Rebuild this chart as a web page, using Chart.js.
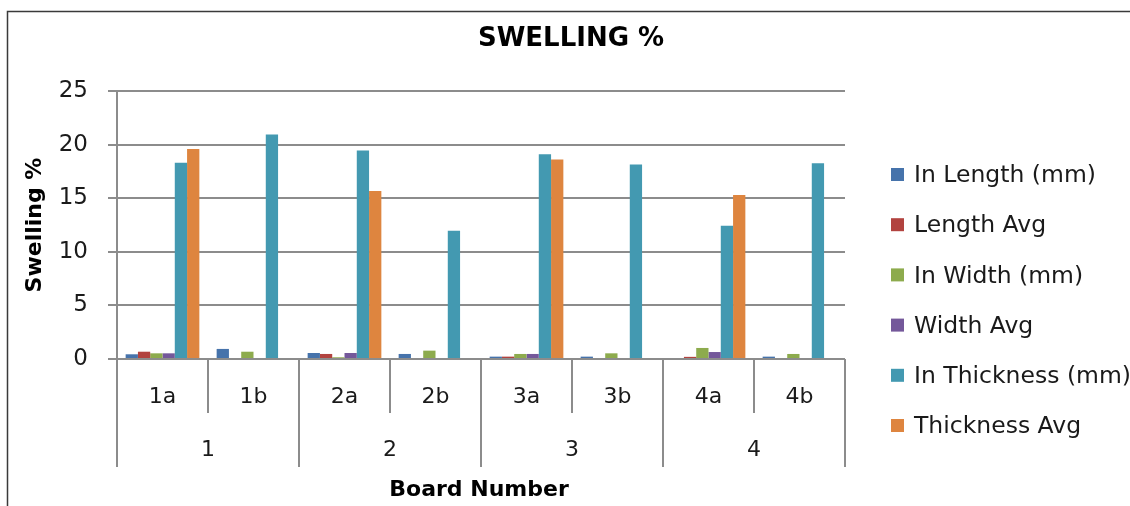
<!DOCTYPE html>
<html>
<head>
<meta charset="utf-8">
<title>Swelling %</title>
<script src="https://cdn.jsdelivr.net/npm/chart.js@4.4.1/dist/chart.umd.min.js"></script>
<style>
  html, body { margin: 0; padding: 0; background: #ffffff; }
  #wrap { width: 1130px; height: 506px; position: relative; }
</style>
</head>
<body>
<div id="wrap"><canvas id="chart" width="1130" height="506"></canvas></div>
<script>
// Board samples (inner axis level) and their board numbers (outer level)
const categories = ['1a', '1b', '2a', '2b', '3a', '3b', '4a', '4b'];
const boardGroups = ['1', '2', '3', '4'];

// Swelling % per sample
const inLength     = [0.44, 0.94, 0.56, 0.47, 0.22, 0.22, 0,    0.22];
const lengthAvg    = [0.68, null, 0.47, null, 0.22, null, 0.20, null];
const inWidth      = [0.53, 0.68, 0.16, 0.78, 0.47, 0.53, 1.03, 0.47];
const widthAvg     = [0.53, null, 0.56, null, 0.47, null, 0.65, null];
const inThickness  = [18.3, 20.95, 19.46, 11.97, 19.1, 18.15, 12.43, 18.27];
const thicknessAvg = [19.6, null, 15.67, null, 18.6, null, 15.3, null];

const seriesNames = ['In Length (mm)', 'Length Avg', 'In Width (mm)', 'Width Avg', 'In Thickness (mm)', 'Thickness Avg'];
const seriesColors = ['#4673ab', '#b2433f', '#8dab4d', '#74589a', '#4399b1', '#de853f'];

const yTicks = [0, 5, 10, 15, 20, 25];
const chartTitle = 'SWELLING %';

const FONT = 'DejaVu Sans';
const GRID = '#8c8c8c';

const seriesData = [inLength, lengthAvg, inWidth, widthAvg, inThickness, thicknessAvg];

// Frame, title, two-level category axis and legend
const decorations = {
  id: 'decorations',
  beforeDraw(chart) {
    const ctx = chart.ctx;
    ctx.save();
    ctx.fillStyle = '#ffffff';
    ctx.fillRect(0, 0, chart.width, chart.height);
    ctx.strokeStyle = '#3a3a3a';
    ctx.lineWidth = 1.5;
    ctx.beginPath();
    ctx.moveTo(7.5, chart.height);
    ctx.lineTo(7.5, 11.5);
    ctx.lineTo(chart.width, 11.5);
    ctx.stroke();

    ctx.fillStyle = '#000000';
    ctx.font = 'bold 26px "' + FONT + '"';
    ctx.textAlign = 'center';
    ctx.textBaseline = 'middle';
    ctx.fillText(chartTitle, 571, 39);
    ctx.restore();
  },
  afterDraw(chart) {
    const ctx = chart.ctx;
    const x = chart.scales.x;
    const area = chart.chartArea;
    const base = area.bottom;
    const n = categories.length;
    const perGroup = n / boardGroups.length;

    const edge = (i) => {
      if (i <= 0) return area.left;
      if (i >= n) return area.right;
      return (x.getPixelForValue(i - 1) + x.getPixelForValue(i)) / 2;
    };

    ctx.save();
    ctx.strokeStyle = GRID;
    ctx.lineWidth = 2;
    for (let i = 0; i <= n; i++) {
      const px = Math.round(edge(i));
      const len = (i % perGroup === 0) ? 108 : 54;
      ctx.beginPath();
      ctx.moveTo(px, base);
      ctx.lineTo(px, base + len);
      ctx.stroke();
    }

    ctx.fillStyle = '#1a1a1a';
    ctx.textAlign = 'center';
    ctx.textBaseline = 'middle';
    ctx.font = '22px "' + FONT + '"';
    categories.forEach((c, i) => {
      ctx.fillText(c, x.getPixelForValue(i), base + 38);
    });
    boardGroups.forEach((g, gi) => {
      const cx = (edge(gi * perGroup) + edge((gi + 1) * perGroup)) / 2;
      ctx.fillText(g, cx, base + 91);
    });

    ctx.fillStyle = '#000000';
    ctx.font = 'bold 22px "' + FONT + '"';
    ctx.fillText('Board Number', (area.left + area.right) / 2 - 2, base + 131);

    // legend
    ctx.font = '23.5px "' + FONT + '"';
    ctx.textAlign = 'left';
    chart.data.datasets.forEach((ds, i) => {
      const cy = 175 + i * 50.2;
      ctx.fillStyle = ds.backgroundColor;
      ctx.fillRect(891, cy - 7, 13, 13);
      ctx.fillStyle = '#1a1a1a';
      ctx.fillText(ds.label, 914, cy + 1);
    });
    ctx.restore();
  }
};

new Chart(document.getElementById('chart'), {
  type: 'bar',
  data: {
    labels: categories,
    datasets: seriesNames.map((name, i) => ({
      label: name,
      data: seriesData[i],
      backgroundColor: seriesColors[i],
      borderWidth: 0,
      categoryPercentage: 0.81,
      barPercentage: 1.0
    }))
  },
  options: {
    responsive: false,
    animation: false,
    devicePixelRatio: 1,
    layout: { padding: { left: 10, right: 285, top: 91, bottom: 147 } },
    plugins: {
      legend: { display: false },
      tooltip: { enabled: false },
      title: { display: false }
    },
    scales: {
      x: {
        display: false,
        offset: true
      },
      y: {
        min: 0,
        max: 25,
        afterBuildTicks(scale) {
          scale.ticks = yTicks.map(v => ({ value: v }));
        },
        afterFit(scale) {
          scale.width = 107;
        },
        ticks: {
          color: '#1a1a1a',
          font: { family: FONT, size: 23 },
          padding: 20
        },
        grid: {
          color: GRID,
          lineWidth: 2,
          tickLength: 9,
          drawTicks: true
        },
        border: { display: true, color: GRID, width: 2 },
        title: {
          display: true,
          text: 'Swelling %',
          color: '#000000',
          font: { family: FONT, size: 22, weight: 'bold', lineHeight: 1.2 },
          padding: { top: 12, bottom: 0 }
        }
      }
    }
  },
  plugins: [decorations]
});
</script>
</body>
</html>
